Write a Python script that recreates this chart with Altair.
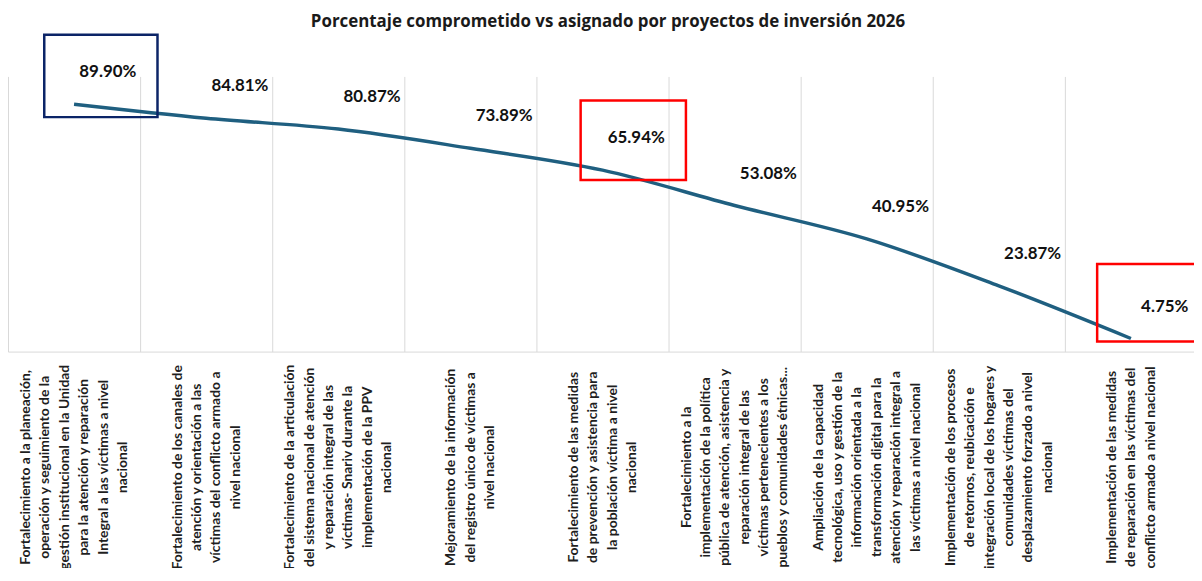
import altair as alt
import pandas as pd

categories = [
    "Fortalecimiento a la planeación,\noperación y seguimiento de la\ngestión institucional en la Unidad\npara la atención y reparación\nIntegral a las víctimas a nivel\nnacional",
    "Fortalecimiento de los canales de\natención y orientación a las\nvíctimas del conflicto armado a\nnivel nacional",
    "Fortalecimiento de la articulación\ndel sistema nacional de atención\ny reparación integral de las\nvíctimas- Snariv durante la\nimplementación de la PPV\nnacional",
    "Mejoramiento de la información\ndel registro único de víctimas a\nnivel nacional",
    "Fortalecimiento de las medidas\nde prevención y asistencia para\nla población víctima a nivel\nnacional",
    "Fortalecimiento a la\nimplementación de la política\npública de atención, asistencia y\nreparación integral de las\nvíctimas pertenecientes a los\npueblos y comunidades étnicas...",
    "Ampliación de la capacidad\ntecnológica, uso y gestión de la\ninformación orientada a la\ntransformación digital para la\natención y reparación integral a\nlas víctimas a nivel nacional",
    "Implementación de los procesos\nde retornos, reubicación e\nintegración local de los hogares y\ncomunidades víctimas del\ndesplazamiento forzado a nivel\nnacional",
    "Implementación de las medidas\nde reparación en las víctimas del\nconflicto armado a nivel nacional",
]
values = [89.90, 84.81, 80.87, 73.89, 65.94, 53.08, 40.95, 23.87, 4.75]
value_labels = ["89.90%", "84.81%", "80.87%", "73.89%", "65.94%", "53.08%", "40.95%", "23.87%", "4.75%"]
highlight_idx = [0, 4, 8]

df = pd.DataFrame({
    "cat": categories,
    "val": values,
    "lab": value_labels,
    "idx": list(range(len(categories))),
})

FONT = "Lato"
LH = 19.5
nlines = "length(split(datum.label, '\\n'))"

label_offset = {
    "condition": [
        {"test": f"{nlines} == 6", "value": -2.5 * LH},
        {"test": f"{nlines} == 5", "value": -2.0 * LH},
        {"test": f"{nlines} == 4", "value": -1.5 * LH},
        {"test": f"{nlines} == 3", "value": -1.0 * LH},
    ],
    "value": 0,
}

x = alt.X(
    "cat:N",
    sort=categories,
    scale=alt.Scale(type="band", paddingInner=0, paddingOuter=0, range=[0, 1197]),
    axis=alt.Axis(
        title=None,
        labelAngle=270,
        labelAlign="center",
        labelBaseline="middle",
        labelPadding=116,
        labelOffset=label_offset,
        labelExpr="split(datum.label, '\\n')",
        labelLineHeight=LH,
        labelFont=FONT,
        labelFontSize=14,
        labelFontWeight="bold",
        labelColor="#1f1f1f",
        labelLimit=400,
        labelOverlap=False,
        ticks=False,
        grid=True,
        tickBand="extent",
        gridColor="#d9d9d9",
        gridWidth=1,
        domainColor="#d9d9d9",
        domainWidth=1,
    ),
)
y = alt.Y("val:Q", scale=alt.Scale(domain=[0, 100]), axis=None)

base = alt.Chart(df).encode(x=x, y=y)

line = base.mark_line(interpolate="monotone", color="#1F5F80", strokeWidth=3.5)

text = base.mark_text(
    dx=34, dy=-32, font=FONT, fontSize=17, fontWeight="bold", color="#111111"
).encode(text="lab:N")

box1 = base.transform_filter(alt.datum.idx == highlight_idx[0]).mark_point(
    shape="M-0.30,-0.70H0.84V0.13H-0.30Z", size=40000, filled=False,
    color="#0B2467", strokeWidth=2.5, opacity=1,
)
box2 = base.transform_filter(alt.datum.idx == highlight_idx[1]).mark_point(
    shape="M-0.22,-0.70H0.84V0.10H-0.22Z", size=40000, filled=False,
    color="#FF0000", strokeWidth=2.5, opacity=1,
)
box3 = base.transform_filter(alt.datum.idx == highlight_idx[2]).mark_point(
    shape="M-0.34,-0.75H0.70V0.03H-0.34Z", size=40000, filled=False,
    color="#FF0000", strokeWidth=2.5, opacity=1,
)

chart = alt.layer(line, text, box1, box2, box3).properties(
    width=1194,
    height=277,
    autosize=alt.AutoSizeParams(type="none"),
    padding={"left": 0, "right": 0, "top": 67, "bottom": 216},
    title=alt.TitleParams(
        "Porcentaje comprometido vs asignado por proyectos de inversión 2026",
        font="Open Sans", fontSize=17, fontWeight="bold", color="#1a1a1a",
        anchor="middle", offset=4, dx=7, dy=5,
    ),
).configure_view(stroke=None)

chart.save("out.html", embed_options={"renderer": "svg", "actions": False})
